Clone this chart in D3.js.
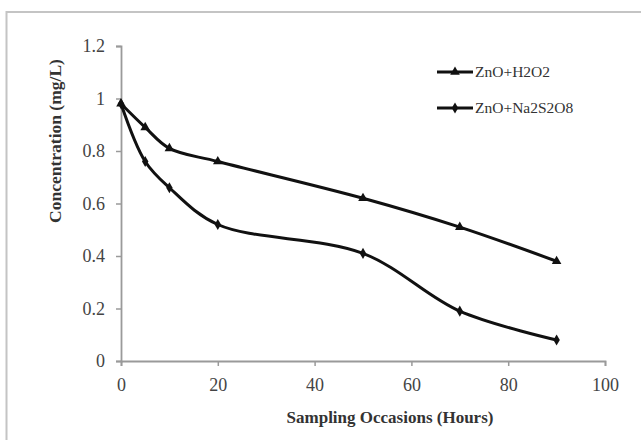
<!DOCTYPE html>
<html><head><meta charset="utf-8">
<script src="https://cdn.jsdelivr.net/npm/d3@7"></script>
<style>body{margin:0;background:#fff}</style>
</head><body><svg id="c" width="641" height="440"></svg>
<script>
const hours = [0, 5, 10, 20, 50, 70, 90];
const h2o2 = [0.98, 0.89, 0.81, 0.76, 0.62, 0.51, 0.38];
const na2s2o8 = [0.98, 0.76, 0.66, 0.52, 0.41, 0.19, 0.08];
const seriesNames = ["ZnO+H2O2", "ZnO+Na2S2O8"];
const xTicks = [0, 20, 40, 60, 80, 100];
const yTicks = [0, 0.2, 0.4, 0.6, 0.8, 1, 1.2];

const svg = d3.select("#c");
const font = "'Liberation Serif','Times New Roman',serif";

svg.append("rect").attr("x", 6.5).attr("y", 12).attr("width", 660).attr("height", 460)
  .attr("fill", "none").attr("stroke", "#c4c4c4").attr("stroke-width", 2);

const x = d3.scaleLinear().domain([0, 100]).range([121, 605]);
const y = d3.scaleLinear().domain([0, 1.2]).range([361, 46]);

const gx = svg.append("g").attr("transform", "translate(0,361)")
  .call(d3.axisBottom(x).tickValues(xTicks).tickSize(5).tickPadding(12).tickFormat(d3.format("d")));
const gy = svg.append("g").attr("transform", "translate(121,0)")
  .call(d3.axisLeft(y).tickValues(yTicks).tickSize(5).tickPadding(11).tickFormat(d => String(+d.toFixed(1))));
[gx, gy].forEach(g => {
  g.select(".domain").attr("stroke", "#9a9a9a").attr("stroke-width", 1.8);
  g.selectAll(".tick line").attr("stroke", "#9a9a9a").attr("stroke-width", 1.5);
  g.selectAll(".tick text").attr("fill", "#444").style("font-family", font).style("font-size", "18px");
});

const line = d3.line().x(d => x(d[0])).y(d => y(d[1])).curve(d3.curveCatmullRom.alpha(0.5));
const data = [h2o2, na2s2o8].map(vals => hours.map((h, i) => [h, vals[i]]));
const symbols = [d3.symbolTriangle, d3.symbolDiamond];
const symSize = [40, 36];

data.forEach((pts, k) => {
  svg.append("path").datum(pts).attr("d", line)
    .attr("fill", "none").attr("stroke", "#111").attr("stroke-width", 3);
  svg.selectAll(null).data(pts).join("path")
    .attr("transform", d => `translate(${x(d[0])},${y(d[1])})`)
    .attr("d", d3.symbol(symbols[k], symSize[k])).attr("fill", "#111");
});

// legend
const legY = [72, 108];
seriesNames.forEach((n, k) => {
  svg.append("line").attr("x1", 437).attr("x2", 473).attr("y1", legY[k]).attr("y2", legY[k])
    .attr("stroke", "#111").attr("stroke-width", 3);
  svg.append("path").attr("transform", `translate(455,${legY[k]})`)
    .attr("d", d3.symbol(symbols[k], symSize[k])).attr("fill", "#111");
  svg.append("text").attr("x", 475).attr("y", legY[k]).attr("dy", "0.35em")
    .style("font-family", font).style("font-size", "15.5px").attr("fill", "#333").text(n);
});

svg.append("text").attr("x", 390).attr("y", 417).attr("dy", "0.35em").attr("text-anchor", "middle")
  .style("font-family", font).style("font-size", "17px").style("font-weight", "bold").attr("fill", "#333")
  .text("Sampling Occasions (Hours)");
svg.append("text").attr("transform", "translate(55,141) rotate(-90)").attr("dy", "0.35em").attr("text-anchor", "middle")
  .style("font-family", font).style("font-size", "17.5px").style("font-weight", "bold").attr("fill", "#333")
  .text("Concentration (mg/L)");
</script></body></html>
